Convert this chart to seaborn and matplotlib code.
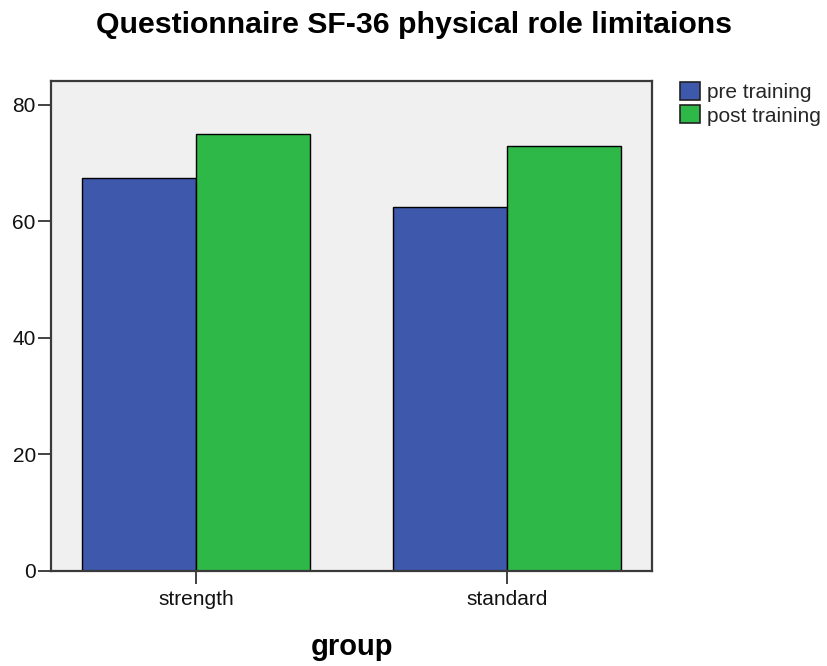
import matplotlib
matplotlib.use("Agg")
import matplotlib.pyplot as plt
import seaborn as sns
import pandas as pd

# Mean SF-36 physical role limitation scores by training group
groups = ["strength", "standard"]
phases = ["pre training", "post training"]
pre_scores = [67.5, 62.5]
post_scores = [75.0, 73.0]
y_ticks = [0, 20, 40, 60, 80]

phase_colors = {"pre training": "#3E58AC", "post training": "#2EB848"}

df = pd.DataFrame({
    "group": groups * 2,
    "phase": [phases[0]] * len(groups) + [phases[1]] * len(groups),
    "score": pre_scores + post_scores,
})

sns.set_theme(style="white")
plt.rcParams["font.family"] = ["Liberation Sans", "DejaVu Sans"]

fig = plt.figure(figsize=(8.27, 6.66), dpi=100)
ax = fig.add_axes([51 / 827, 1 - 571 / 666, (652 - 51) / 827, (571 - 81) / 666])
ax.set_facecolor("#F0F0F0")

sns.barplot(
    data=df, x="group", y="score", hue="phase",
    order=groups, hue_order=phases, palette=phase_colors, saturation=1,
    width=0.733, edgecolor="black", linewidth=1.0,
    errorbar=None, ax=ax,
)

ax.set_ylim(0, 84.1)
ax.set_xlim(-0.466, 1.466)
ax.set_yticks(y_ticks)
ax.set_xlabel("")
ax.set_ylabel("")

for side in ["left", "right", "top", "bottom"]:
    ax.spines[side].set_visible(True)
    ax.spines[side].set_color("#3A3A3A")
    ax.spines[side].set_linewidth(1.6)

ax.tick_params(axis="both", which="major", direction="out", length=9.4,
               width=1.2, color="#222222", labelsize=15, labelcolor="#111111",
               bottom=True, left=True)
ax.tick_params(axis="y", pad=1.5)
ax.tick_params(axis="x", pad=4)

fig.text(0.5, 1 - 33 / 666, "Questionnaire SF-36 physical role limitaions",
         ha="center", va="baseline", fontsize=21.8, fontweight="bold", color="black")
fig.text((51 + 652) / 2 / 827, 1 - 655 / 666, "group",
         ha="center", va="baseline", fontsize=21, fontweight="bold", color="black")

leg = ax.legend(
    loc="upper left", bbox_to_anchor=(680 / 827, 1 - 82 / 666),
    bbox_transform=fig.transFigure, frameon=False, fontsize=15,
    borderpad=0, borderaxespad=0, handlelength=0.96, handleheight=0.96,
    handletextpad=0.34, labelspacing=0.15,
)
for h in leg.legend_handles:
    h.set_edgecolor("#222222")
    h.set_linewidth(1.2)

fig.savefig("out.png", dpi=100)
